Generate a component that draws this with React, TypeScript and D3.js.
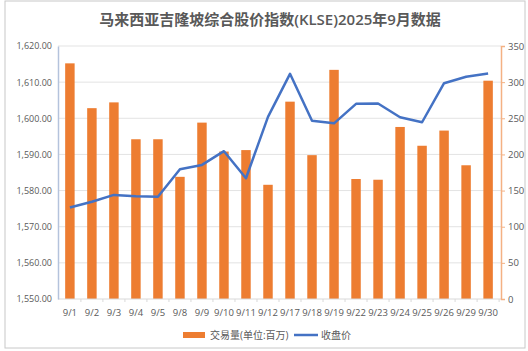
import React, { useEffect, useRef } from 'react';
import * as d3 from 'd3';

const dates = ['9/1', '9/2', '9/3', '9/4', '9/5', '9/8', '9/9', '9/10', '9/11', '9/12', '9/17', '9/18', '9/19', '9/22', '9/23', '9/24', '9/25', '9/26', '9/29', '9/30'];
const volume = [326, 264, 272, 221, 221, 169, 244, 204, 206, 158, 273, 199, 317, 166, 165, 238, 212, 233, 185, 302];
const closePrice = [1575.3, 1576.9, 1578.8, 1578.4, 1578.3, 1585.9, 1587.1, 1590.9, 1583.4, 1600.4, 1612.3, 1599.3, 1598.6, 1604.0, 1604.1, 1600.3, 1598.9, 1609.7, 1611.5, 1612.4];
const leftTicks = [1550, 1560, 1570, 1580, 1590, 1600, 1610, 1620];
const rightTicks = [0, 50, 100, 150, 200, 250, 300, 350];

const W = 528;
const H = 351;
const font = '"Open Sans", "Noto Sans CJK SC", sans-serif';

const App = () => {
    const ref = useRef<SVGSVGElement>(null);

    useEffect(() => {
        const svg = d3.select(ref.current);
        svg.selectAll('*').remove();

        const margin = { top: 46, right: 27, bottom: 52, left: 58 };
        const innerH = H - margin.top - margin.bottom;

        svg.append('rect')
            .attr('x', 5).attr('y', 1).attr('width', W - 8).attr('height', H - 4)
            .attr('fill', '#fff').attr('stroke', '#c8c8c8');

        svg.append('text')
            .attr('x', 270).attr('y', 25)
            .attr('text-anchor', 'middle')
            .attr('font-family', font).attr('font-size', 15).attr('font-weight', 600)
            .attr('fill', '#595959')
            .text('马来西亚吉隆坡综合股价指数(KLSE)2025年9月数据');

        const g = svg.append('g').attr('transform', `translate(${margin.left}, ${margin.top})`);

        const x = d3.scaleBand()
            .domain(dates)
            .range([1, W - margin.left - margin.right - 2])
            .paddingInner(0.57)
            .paddingOuter(0.28);

        const yL = d3.scaleLinear().domain([1550, 1620]).range([innerH, 0]);
        const yR = d3.scaleLinear().domain([0, 350]).range([innerH, 0]);
        const plotW = W - margin.left - margin.right;

        // gridlines
        g.append('g')
            .selectAll('line')
            .data(leftTicks.slice(1))
            .enter()
            .append('line')
            .attr('x1', 0).attr('x2', plotW)
            .attr('y1', d => yL(d)).attr('y2', d => yL(d))
            .attr('stroke', '#e3e3e3');

        // bars
        g.append('g')
            .selectAll('rect')
            .data(volume)
            .enter()
            .append('rect')
            .attr('x', (d, i) => x(dates[i]) as number)
            .attr('y', d => yR(d))
            .attr('width', x.bandwidth())
            .attr('height', d => innerH - yR(d))
            .attr('fill', '#ED7D31');

        // bottom axis
        const step = x.step();
        g.append('line')
            .attr('x1', 0).attr('x2', plotW)
            .attr('y1', innerH).attr('y2', innerH)
            .attr('stroke', '#d9d9d9');
        g.append('g')
            .selectAll('line')
            .data(dates)
            .enter()
            .append('line')
            .attr('x1', d => (x(d) as number) + x.bandwidth() / 2 + step / 2)
            .attr('x2', d => (x(d) as number) + x.bandwidth() / 2 + step / 2)
            .attr('y1', innerH).attr('y2', innerH + 3)
            .attr('stroke', '#d9d9d9');
        g.append('g')
            .selectAll('text')
            .data(dates)
            .enter()
            .append('text')
            .attr('x', d => (x(d) as number) + x.bandwidth() / 2)
            .attr('y', innerH + 17)
            .attr('text-anchor', 'middle')
            .attr('font-family', font).attr('font-size', 9.5)
            .attr('fill', '#595959')
            .text(d => d);

        // line
        const line = d3.line<number>()
            .x((d, i) => (x(dates[i]) as number) + x.bandwidth() / 2)
            .y(d => yL(d));
        g.append('path')
            .datum(closePrice)
            .attr('d', line)
            .attr('fill', 'none')
            .attr('stroke', '#4472C4')
            .attr('stroke-width', 2.5)
            .attr('stroke-linejoin', 'round');

        // left axis
        const left = g.append('g').call(d3.axisLeft(yL).tickValues(leftTicks).tickSize(0).tickPadding(6).tickFormat(d3.format(',.2f')));
        left.select('.domain').attr('stroke', '#b4c3dc').attr('stroke-width', 1.5);
        left.selectAll('text').attr('font-family', font).attr('font-size', 9).attr('fill', '#595959');

        // right axis
        const right = g.append('g')
            .attr('transform', `translate(${plotW}, 0)`)
            .call(d3.axisRight(yR).tickValues(rightTicks).tickSize(4).tickSizeOuter(4).tickPadding(3));
        right.select('.domain').attr('stroke', '#f4b183').attr('stroke-width', 1.5);
        right.selectAll('line').attr('stroke', '#f4b183');
        right.selectAll('text').attr('font-family', font).attr('font-size', 9.5).attr('fill', '#595959');

        // legend
        const lg = svg.append('g').attr('transform', 'translate(183, 335)');
        lg.append('rect').attr('x', 0).attr('y', -3).attr('width', 22).attr('height', 6).attr('fill', '#ED7D31');
        lg.append('text').attr('x', 27).attr('y', 4)
            .attr('font-family', font).attr('font-size', 10).attr('fill', '#595959')
            .text('交易量(单位:百万)');
        lg.append('line').attr('x1', 111).attr('x2', 135).attr('y1', 0).attr('y2', 0)
            .attr('stroke', '#4472C4').attr('stroke-width', 2.5);
        lg.append('text').attr('x', 138).attr('y', 4)
            .attr('font-family', font).attr('font-size', 10).attr('fill', '#595959')
            .text('收盘价');
    }, []);

    return (
        <svg ref={ref} width={W} height={H} style={{ position: 'absolute', left: 0, top: 0 }}></svg>
    );
};

export default App;
